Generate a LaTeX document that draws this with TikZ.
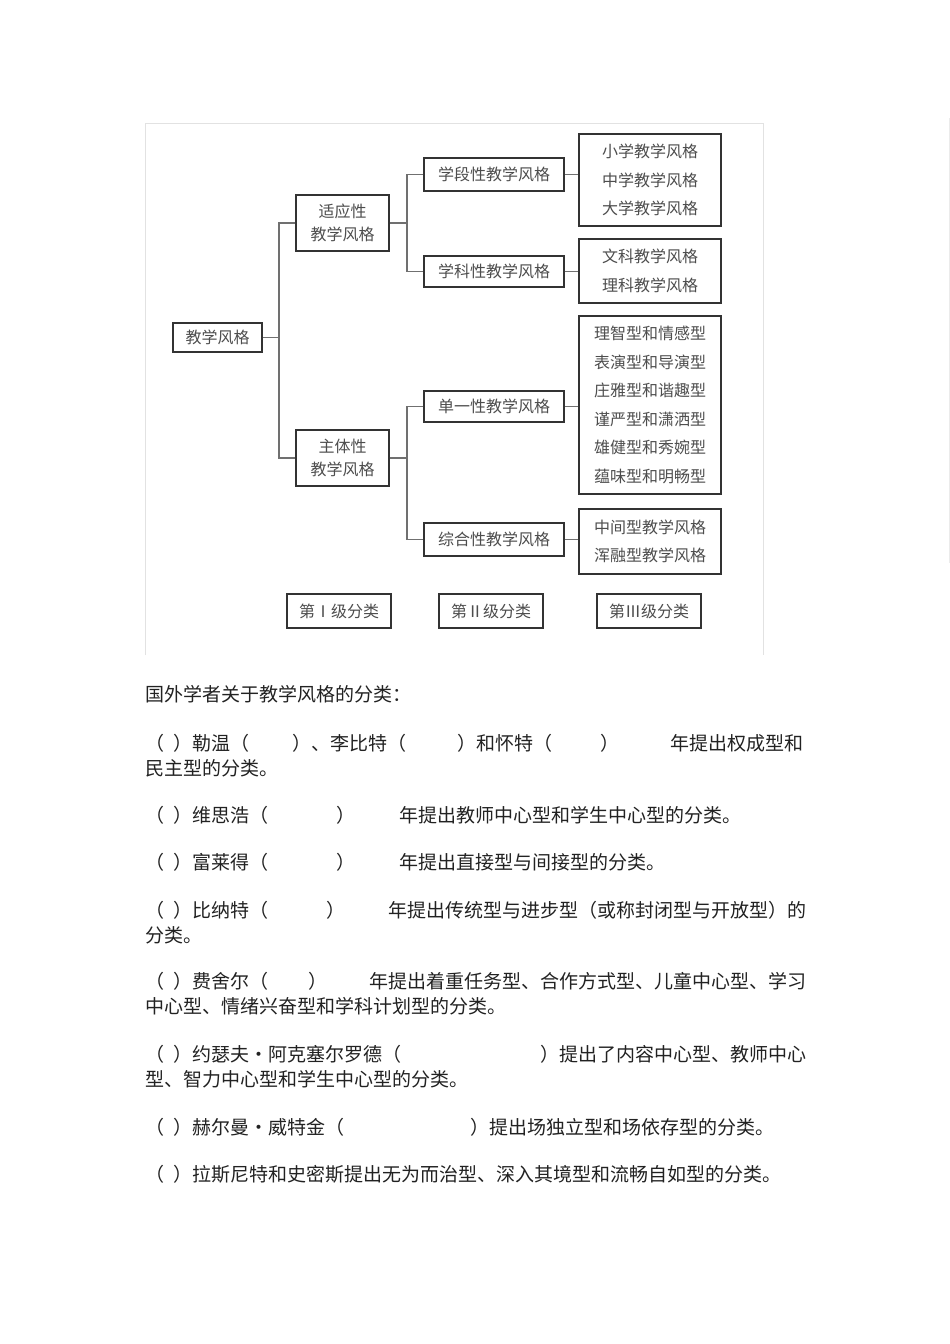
\documentclass[tikz,border=0pt]{standalone}
\usepackage{fontspec}
\setmainfont{Noto Sans CJK SC}
\usetikzlibrary{calc}
\definecolor{ink}{HTML}{222222}
\definecolor{boxline}{HTML}{333333}
\definecolor{wire}{HTML}{707070}
\definecolor{label}{HTML}{4D4D4D}
\definecolor{frame}{HTML}{E2E2E2}
\tikzset{
  every node/.style={inner sep=0pt},
  level box/.style={
    draw=boxline,
    line width=1.2pt,
    fill=white,
    align=center,
    text=label,
    font=\fontsize{16}{23}\selectfont
  },
  list box/.style={
    level box,
    minimum width=142pt,
    font=\fontsize{16}{28.5}\selectfont
  },
  tag box/.style={
    level box,
    minimum width=104pt,
    minimum height=34pt,
    line width=1.5pt
  },
  branch line/.style={draw=wire,line width=1.1pt},
  body line/.style={anchor=west,text=ink,font=\fontsize{19}{19}\selectfont},
}

\begin{document}
\begin{tikzpicture}[x=1pt,y=-1pt]
  \useasboundingbox[fill=white] (0,0) rectangle (950,1344);

  % frame round the chart
  \draw[frame,line width=1pt] (145,655) -- (145,123) -- (763,123) -- (763,655);
  \draw[frame!70,line width=1pt] (949,118) -- (949,563);

  % level I
  \node[level box,minimum width=89pt,minimum height=29pt] (root) at (217.5,337.5) {教学风格};

  \node[level box,minimum width=93pt,minimum height=56pt] (adapt) at (342.5,223) {适应性\\教学风格};
  \node[level box,minimum width=93pt,minimum height=56pt] (subj) at (342.5,458) {主体性\\教学风格};

  % level II
  \node[level box,minimum width=140pt,minimum height=33pt] (stage) at (494,174.5) {学段性教学风格};
  \node[level box,minimum width=140pt,minimum height=31pt] (field) at (494,271.5) {学科性教学风格};
  \node[level box,minimum width=140pt,minimum height=31pt] (single) at (494,406.5) {单一性教学风格};
  \node[level box,minimum width=140pt,minimum height=33pt] (mixed) at (494,539.5) {综合性教学风格};

  % level III
  \node[list box,minimum height=92pt] (stagelist) at (650,180) {小学教学风格\\中学教学风格\\大学教学风格};
  \node[list box,minimum height=64pt] (fieldlist) at (650,271) {文科教学风格\\理科教学风格};
  \node[list box,minimum height=178pt] (singlelist) at (650,405)
    {理智型和情感型\\表演型和导演型\\庄雅型和谐趣型\\谨严型和潇洒型\\雄健型和秀婉型\\蕴味型和明畅型};
  \node[list box,minimum height=65pt] (mixedlist) at (650,541.5) {中间型教学风格\\浑融型教学风格};

  % legend
  \node[tag box] (tagone) at (339,611) {第Ⅰ级分类};
  \node[tag box] (tagtwo) at (491,611) {第Ⅱ级分类};
  \node[tag box] (tagthree) at (649,611) {第Ⅲ级分类};

  % connectors
  \coordinate (rootfork) at (279,337.5);
  \coordinate (adaptfork) at (407,223);
  \coordinate (subjfork) at (407,458);
  \draw[branch line] (root.east) -- (rootfork);
  \draw[branch line] (adapt.west) -| (rootfork) |- (subj.west);
  \draw[branch line] (adapt.east) -- (adaptfork);
  \draw[branch line] (stage.west) -| (adaptfork) |- (field.west);
  \draw[branch line] (subj.east) -- (subjfork);
  \draw[branch line] (single.west) -| (subjfork) |- (mixed.west);
  \draw[branch line] (stage.east) -- (stage.east -| stagelist.west);
  \draw[branch line] (field.east) -- (field.east -| fieldlist.west);
  \draw[branch line] (single.east) -- (single.east -| singlelist.west);
  \draw[branch line] (mixed.east) -- (mixed.east -| mixedlist.west);

  % text below the chart
  \node[body line] (head) at (145,694) {国外学者关于教学风格的分类：};
  \node[body line] (lewinA) at (145,743)
    {（\hspace{9pt}）勒温（\hspace{43pt}）、李比特（\hspace{51pt}）和怀特（\hspace{48pt}）\hspace{51pt}年提出权成型和};
  \node[body line] (lewinB) at (145,768) {民主型的分类。};
  \node[body line] (wiss) at (145,815)
    {（\hspace{9pt}）维思浩（\hspace{68pt}）\hspace{44pt}年提出教师中心型和学生中心型的分类。};
  \node[body line] (flan) at (145,862)
    {（\hspace{9pt}）富莱得（\hspace{68pt}）\hspace{44pt}年提出直接型与间接型的分类。};
  \node[body line] (bennA) at (145,910)
    {（\hspace{9pt}）比纳特（\hspace{58pt}）\hspace{43pt}年提出传统型与进步型（或称封闭型与开放型）的};
  \node[body line] (bennB) at (145,935) {分类。};
  \node[body line] (fishA) at (145,981)
    {（\hspace{9pt}）费舍尔（\hspace{40pt}）\hspace{42pt}年提出着重任务型、合作方式型、儿童中心型、学习};
  \node[body line] (fishB) at (145,1006) {中心型、情绪兴奋型和学科计划型的分类。};
  \node[body line] (axelA) at (145,1054)
    {（\hspace{9pt}）约瑟夫\makebox[19pt]{•}阿克塞尔罗德（\hspace{139pt}）提出了内容中心型、教师中心};
  \node[body line] (axelB) at (145,1079) {型、智力中心型和学生中心型的分类。};
  \node[body line] (witk) at (145,1127)
    {（\hspace{9pt}）赫尔曼\makebox[19pt]{•}威特金（\hspace{126pt}）提出场独立型和场依存型的分类。};
  \node[body line] (rasn) at (145,1174)
    {（\hspace{9pt}）拉斯尼特和史密斯提出无为而治型、深入其境型和流畅自如型的分类。};
\end{tikzpicture}
\end{document}
